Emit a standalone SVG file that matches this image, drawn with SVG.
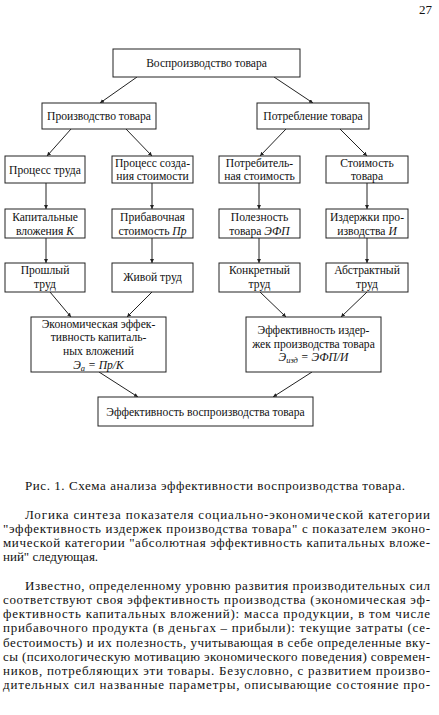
<svg xmlns="http://www.w3.org/2000/svg" width="439" height="715" viewBox="0 0 439 715">
<style>
.bx{fill:#fff;stroke:#222;stroke-width:1}
.t{font-family:"Liberation Serif","DejaVu Serif",serif;font-size:11.6px;fill:#111;text-anchor:middle}
.i{font-style:italic}
.c line{stroke:#222;stroke-width:1;marker-end:url(#ah)}
.p{font-family:"Liberation Serif","DejaVu Serif",serif;font-size:13px;fill:#111}
</style>
<defs>
<marker id="ah" viewBox="0 0 6 6" refX="6" refY="3" markerWidth="4" markerHeight="4" orient="auto" markerUnits="userSpaceOnUse">
<path d="M0,0 L6,3 L0,6 z" fill="#222"/>
</marker>
</defs>
<rect width="439" height="715" fill="#fff"/>
<text class="p" x="432" y="14" text-anchor="end">27</text>

<g class="c" id="connectors">
<line x1="137" y1="77" x2="100" y2="103"/>
<line x1="274" y1="77" x2="313" y2="103"/>
<line x1="71" y1="129" x2="47" y2="156"/>
<line x1="126" y1="129" x2="152" y2="156"/>
<line x1="286" y1="129" x2="260" y2="156"/>
<line x1="340" y1="129" x2="367" y2="156"/>
<line x1="46" y1="183" x2="46" y2="209"/>
<line x1="152" y1="183" x2="152" y2="209"/>
<line x1="259" y1="183" x2="259" y2="209"/>
<line x1="367" y1="183" x2="367" y2="209"/>
<line x1="46" y1="238" x2="46" y2="263"/>
<line x1="152" y1="238" x2="152" y2="263"/>
<line x1="259" y1="238" x2="259" y2="263"/>
<line x1="367" y1="238" x2="367" y2="263"/>
<line x1="50" y1="292" x2="71" y2="317"/>
<line x1="152" y1="292" x2="127" y2="317"/>
<line x1="260" y1="292" x2="286" y2="317"/>
<line x1="367" y1="292" x2="341" y2="317"/>
<line x1="99" y1="372" x2="138" y2="397"/>
<line x1="312" y1="372" x2="273" y2="397"/>
</g>

<g id="n-root"><rect class="bx" x="113" y="49" width="187" height="28"/><text class="t" x="206.5" y="67">Воспроизводство товара</text></g>
<g id="n-prod"><rect class="bx" x="42" y="103" width="114" height="26"/><text class="t" x="99" y="120">Производство товара</text></g>
<g id="n-cons"><rect class="bx" x="257" y="103" width="112" height="26"/><text class="t" x="313" y="120">Потребление товара</text></g>

<g id="n-l3a"><rect class="bx" x="5" y="156" width="80" height="27"/><text class="t" x="45" y="173.5">Процесс труда</text></g>
<g id="n-l3b"><rect class="bx" x="112" y="156" width="81" height="27"/><text class="t" x="152.5" y="166.5">Процесс созда-</text><text class="t" x="152.5" y="180">ния стоимости</text></g>
<g id="n-l3c"><rect class="bx" x="219" y="156" width="81" height="27"/><text class="t" x="259.5" y="166.5">Потребитель-</text><text class="t" x="259.5" y="180">ная стоимость</text></g>
<g id="n-l3d"><rect class="bx" x="326" y="156" width="82" height="27"/><text class="t" x="367" y="166.5">Стоимость</text><text class="t" x="367" y="180">товара</text></g>

<g id="n-l4a"><rect class="bx" x="5" y="209" width="80" height="29"/><text class="t" x="45" y="221">Капитальные</text><text class="t" x="45" y="234.5">вложения <tspan class="i">K</tspan></text></g>
<g id="n-l4b"><rect class="bx" x="112" y="209" width="81" height="29"/><text class="t" x="152.5" y="221">Прибавочная</text><text class="t" x="152.5" y="234.5">стоимость <tspan class="i">Пр</tspan></text></g>
<g id="n-l4c"><rect class="bx" x="219" y="209" width="81" height="29"/><text class="t" x="259.5" y="221">Полезность</text><text class="t" x="259.5" y="234.5">товара <tspan class="i">ЭФП</tspan></text></g>
<g id="n-l4d"><rect class="bx" x="326" y="209" width="82" height="29"/><text class="t" x="367" y="221">Издержки про-</text><text class="t" x="367" y="234.5">изводства <tspan class="i">И</tspan></text></g>

<g id="n-l5a"><rect class="bx" x="5" y="263" width="80" height="29"/><text class="t" x="45" y="274">Прошлый</text><text class="t" x="45" y="288">труд</text></g>
<g id="n-l5b"><rect class="bx" x="112" y="263" width="81" height="29"/><text class="t" x="152.5" y="281">Живой труд</text></g>
<g id="n-l5c"><rect class="bx" x="219" y="263" width="81" height="29"/><text class="t" x="259.5" y="274">Конкретный</text><text class="t" x="259.5" y="288">труд</text></g>
<g id="n-l5d"><rect class="bx" x="326" y="263" width="82" height="29"/><text class="t" x="367" y="274">Абстрактный</text><text class="t" x="367" y="288">труд</text></g>

<g id="n-effk"><rect class="bx" x="31" y="317" width="135" height="55"/>
<text class="t" x="98.5" y="327.5">Экономическая эффек-</text>
<text class="t" x="98.5" y="341">тивность капиталь-</text>
<text class="t" x="98.5" y="355">ных вложений</text>
<text class="t i" x="98.5" y="368.5">Э<tspan font-size="8.5" dy="2">a</tspan><tspan dy="-2"> = Пр/К</tspan></text></g>
<g id="n-effi"><rect class="bx" x="246" y="317" width="135" height="55"/>
<text class="t" x="313.5" y="334">Эффективность издер-</text>
<text class="t" x="313.5" y="348">жек производства товара</text>
<text class="t i" x="313.5" y="361">Э<tspan font-size="8.5" dy="2">изд</tspan><tspan dy="-2"> = ЭФП/И</tspan></text></g>

<g id="n-final"><rect class="bx" x="98" y="397" width="215" height="29"/><text class="t" x="205.5" y="415.5">Эффективность воспроизводства товара</text></g>

<g id="body">
<text class="p" x="25" y="490" textLength="380" lengthAdjust="spacing">Рис. 1. Схема анализа эффективности воспроизводства товара.</text>
<text class="p" x="25" y="518.5" textLength="405" lengthAdjust="spacing">Логика синтеза показателя социально-экономической категории</text>
<text class="p" x="3" y="532.5" textLength="427" lengthAdjust="spacing">"эффективность издержек производства товара" с показателем эконо-</text>
<text class="p" x="3" y="546.5" textLength="427" lengthAdjust="spacing">мической категории "абсолютная эффективность капитальных вложе-</text>
<text class="p" x="3" y="560.5">ний" следующая.</text>
<text class="p" x="25" y="589.5" textLength="405" lengthAdjust="spacing">Известно, определенному уровню развития производительных сил</text>
<text class="p" x="3" y="603.75" textLength="427" lengthAdjust="spacing">соответствуют своя эффективность производства (экономическая эф-</text>
<text class="p" x="3" y="618" textLength="427" lengthAdjust="spacing">фективность капитальных вложений): масса продукции, в том числе</text>
<text class="p" x="3" y="632.25" textLength="427" lengthAdjust="spacing">прибавочного продукта (в деньгах – прибыли): текущие затраты (се-</text>
<text class="p" x="3" y="646.5" textLength="427" lengthAdjust="spacing">бестоимость) и их полезность, учитывающая в себе определенные вку-</text>
<text class="p" x="3" y="660.75" textLength="427" lengthAdjust="spacing">сы (психологическую мотивацию экономического поведения) современ-</text>
<text class="p" x="3" y="675" textLength="427" lengthAdjust="spacing">ников, потребляющих эти товары. Безусловно, с развитием произво-</text>
<text class="p" x="3" y="689.25" textLength="427" lengthAdjust="spacing">дительных сил названные параметры, описывающие состояние про-</text>
</g>
</svg>
